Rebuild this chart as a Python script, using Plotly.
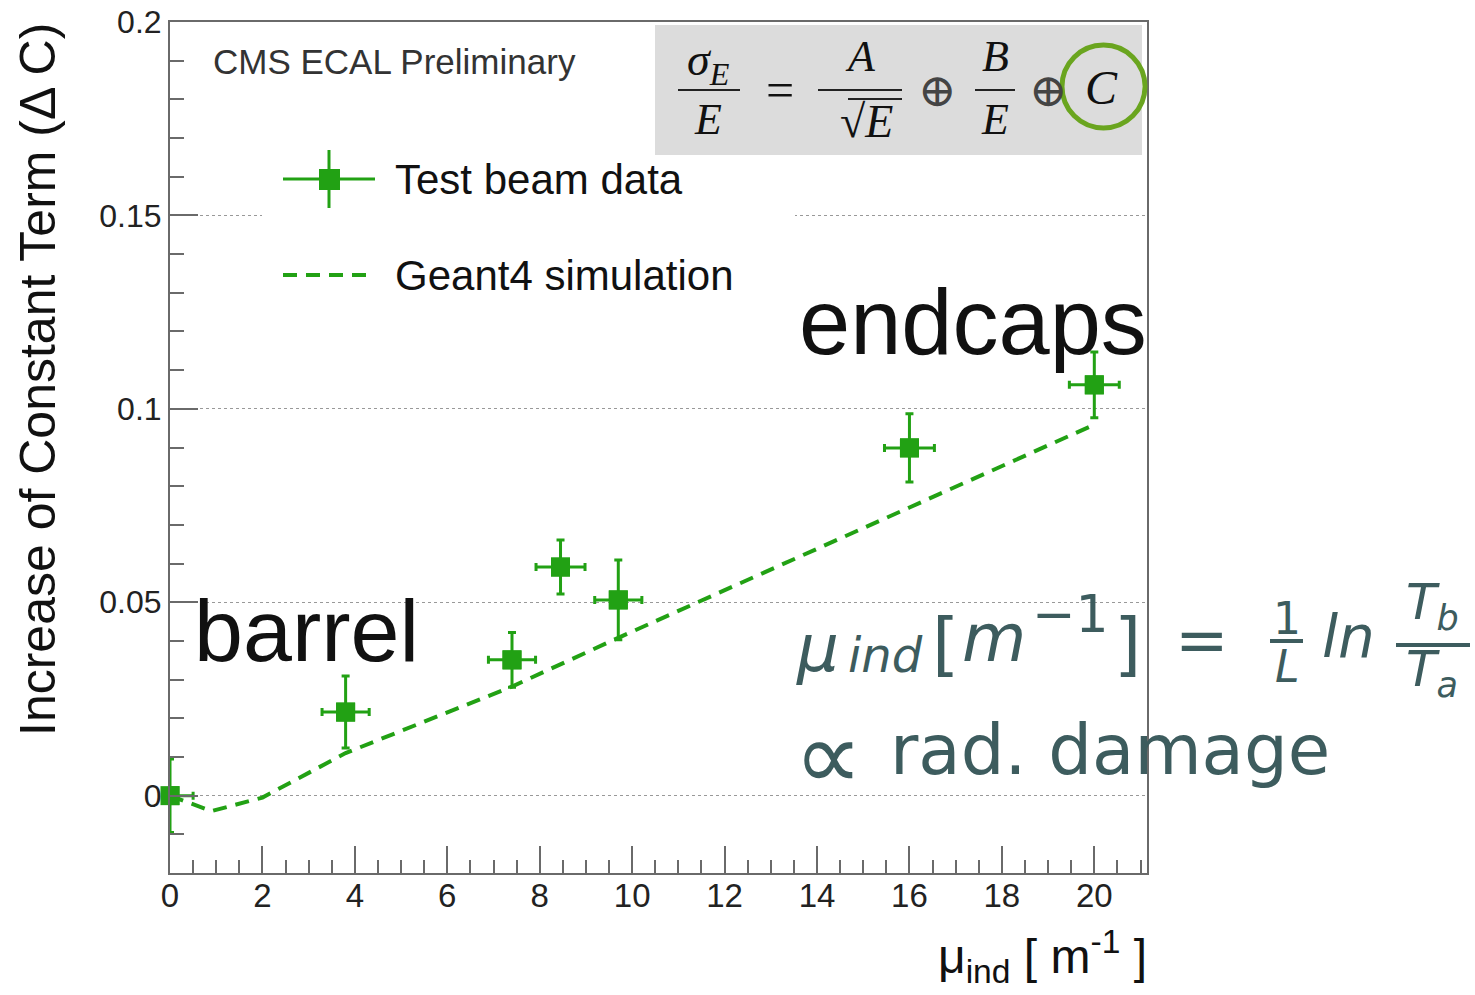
import plotly.graph_objects as go

# ---- data ----
mu_data = [0.0, 3.8, 7.4, 8.45, 9.7, 16.0, 20.0]
dC_data = [0.0, 0.0216, 0.0351, 0.0591, 0.0506, 0.0899, 0.1062]
dC_err = [0.0095, 0.0093, 0.0071, 0.0070, 0.0103, 0.0088, 0.0085]
mu_err = [0.5, 0.51, 0.51, 0.53, 0.51, 0.54, 0.54]

mu_sim = [0.0, 0.9, 2.0, 3.8, 7.4, 9.7, 16.0, 20.0]
dC_sim = [0.0, -0.0040, -0.0005, 0.0110, 0.0282, 0.0408, 0.0745, 0.0959]

x_ticks = [0, 2, 4, 6, 8, 10, 12, 14, 16, 18, 20]
y_tickvals = [0, 0.05, 0.1, 0.15, 0.2]
y_ticktext = ["0", "0.05", "0.1", "0.15", "0.2"]

GREEN = "#22a114"
TEAL = "#3d5c5e"
AXC = "#6a6a6a"

# plot-area geometry (pixels)
L, R, T, B = 170, 1147, 22, 873
W, H = R - L, B - T


def px(x):
    return (x - L) / W


def py(y):
    return (B - y) / H


fig = go.Figure()

# simulation
fig.add_trace(go.Scatter(
    x=mu_sim, y=dC_sim, mode="lines",
    line=dict(color=GREEN, width=4, dash="14px,9px"),
    showlegend=False, hoverinfo="skip"))

# data with error bars (clipped)
fig.add_trace(go.Scatter(
    x=mu_data, y=dC_data, mode="markers",
    marker=dict(symbol="square", size=19, color=GREEN),
    error_y=dict(type="data", array=dC_err, color=GREEN, thickness=3, width=4),
    error_x=dict(type="data", array=mu_err, color=GREEN, thickness=3, width=4),
    cliponaxis=True, showlegend=False))
# markers again, not clipped
fig.add_trace(go.Scatter(
    x=mu_data, y=dC_data, mode="markers",
    marker=dict(symbol="square", size=19, color=GREEN),
    cliponaxis=False, showlegend=False, hoverinfo="skip"))

shapes = []
# legend background (hides the grid)
shapes.append(dict(type="rect", xref="paper", yref="paper",
                   x0=px(262), x1=px(795), y0=py(300), y1=py(140),
                   fillcolor="white", line=dict(width=0), layer="above"))
# formula grey box
shapes.append(dict(type="rect", xref="paper", yref="paper",
                   x0=px(655), x1=px(1142), y0=py(155), y1=py(25),
                   fillcolor="#dcdcdc", line=dict(width=0), layer="above"))
# legend glyphs
shapes += [
    dict(type="line", xref="paper", yref="paper", x0=px(283), x1=px(375),
         y0=py(179), y1=py(179), line=dict(color=GREEN, width=3)),
    dict(type="line", xref="paper", yref="paper", x0=px(329), x1=px(329),
         y0=py(150), y1=py(208), line=dict(color=GREEN, width=3)),
    dict(type="rect", xref="paper", yref="paper", x0=px(319), x1=px(340),
         y0=py(190), y1=py(169), fillcolor=GREEN, line=dict(width=0)),
    dict(type="line", xref="paper", yref="paper", x0=px(283), x1=px(375),
         y0=py(275), y1=py(275), line=dict(color=GREEN, width=4, dash="14px,9px")),
]
# fraction bars in grey formula
for x0, x1 in [(678, 740), (818, 902), (975, 1015)]:
    shapes.append(dict(type="line", xref="paper", yref="paper", x0=px(x0), x1=px(x1),
                       y0=py(90), y1=py(90), line=dict(color="#222", width=2)))
shapes.append(dict(type="line", xref="paper", yref="paper", x0=px(848), x1=px(902),
                   y0=py(99), y1=py(99), line=dict(color="#222", width=2)))
# green circle around C
shapes.append(dict(type="circle", xref="paper", yref="paper",
                   x0=px(1062), x1=px(1145), y0=py(128), y1=py(45),
                   line=dict(color="#6aa51f", width=5)))
# fraction bars in teal formula
shapes.append(dict(type="line", xref="paper", yref="paper", x0=px(1270), x1=px(1303),
                   y0=py(641), y1=py(641), line=dict(color=TEAL, width=4)))
shapes.append(dict(type="line", xref="paper", yref="paper", x0=px(1396), x1=px(1470),
                   y0=py(645), y1=py(645), line=dict(color=TEAL, width=4)))

ann = []


def A(text, x, y, size, color="#111", family="Liberation Sans", xanchor="center",
      yanchor="middle", angle=0):
    ann.append(dict(text=text, x=px(x), y=py(y), xref="paper", yref="paper",
                    xanchor=xanchor, yanchor=yanchor, showarrow=False, textangle=angle,
                    font=dict(size=size, color=color, family=family)))


A("CMS ECAL Preliminary", 211, 62, 35, color="#333", xanchor="left")
A("Test beam data", 393, 180, 42, color="#111", xanchor="left")
A("Geant4 simulation", 393, 275, 42, color="#111", xanchor="left")
A("barrel", 192, 630, 88, xanchor="left")
A("endcaps", 797, 322, 92, xanchor="left")

SER = "Liberation Serif"
A("<i>σ<sub>E</sub></i>", 708, 63, 46, family=SER)
A("<i>E</i>", 708, 119, 44, family=SER)
A("=", 780, 90, 50, family=SER)
A("<i>A</i>", 860, 56, 44, family=SER)
A("√<i>E</i>", 866, 121, 46, family=SER)
A("⊕", 937, 90, 46, family="DejaVu Serif", color="#444")
A("<i>B</i>", 995, 56, 44, family=SER)
A("<i>E</i>", 995, 119, 44, family=SER)
A("⊕", 1048, 90, 46, family="DejaVu Serif", color="#444")
A("<i>C</i>", 1101, 88, 48, family=SER)

DS = "DejaVu Sans"
A("<i>μ</i>", 794, 648, 66, color=TEAL, family=DS, xanchor="left")
A("<i>ind</i>", 846, 655, 48, color=TEAL, family=DS, xanchor="left")
A("[", 930, 644, 70, color=TEAL, family=DS, xanchor="left")
A("<i>m</i>", 960, 638, 66, color=TEAL, family=DS, xanchor="left")
A("−1", 1030, 614, 52, color=TEAL, family=DS, xanchor="left")
A("]", 1112, 644, 70, color=TEAL, family=DS, xanchor="left")
A("=", 1202, 640, 64, color=TEAL, family=DS)
A("1", 1287, 618, 44, color=TEAL, family=DS)
A("<i>L</i>", 1287, 666, 44, color=TEAL, family=DS)
A("<i>ln</i>", 1348, 637, 58, color=TEAL, family=DS)
A("<i>T<sub>b</sub></i>", 1432, 605, 50, color=TEAL, family=DS)
A("<i>T<sub>a</sub></i>", 1432, 672, 50, color=TEAL, family=DS)
A("∝", 792, 756, 96, color=TEAL, family=DS, xanchor="left")
A("rad. damage", 888, 750, 69, color=TEAL, family=DS, xanchor="left")

A("Increase of Constant Term (Δ C)", 38, 380, 50, angle=-90)
A("μ<sub>ind</sub> [ m<sup>-1</sup> ]", 1149, 956, 48, xanchor="right")

fig.update_layout(
    width=1475, height=995,
    margin=dict(l=L, r=1475 - R, t=T, b=995 - B),
    paper_bgcolor="white", plot_bgcolor="white",
    shapes=shapes, annotations=ann,
    showlegend=False,
    font=dict(family="Liberation Sans", color="#222"),
    xaxis=dict(range=[0, 21.14], tickmode="array", tickvals=x_ticks,
               automargin=False,
               ticks="inside", ticklen=27, tickwidth=2, tickcolor=AXC,
               showline=True, linecolor=AXC, linewidth=2, mirror=True,
               showgrid=False, zeroline=False, ticklabelstandoff=-8,
               tickfont=dict(size=33, color="#222"),
               minor=dict(dtick=0.5, tick0=0, ticks="inside", ticklen=13,
                          tickwidth=2, tickcolor=AXC, showgrid=False)),
    yaxis=dict(range=[-0.02, 0.2], tickmode="array", tickvals=y_tickvals,
               ticktext=y_ticktext, automargin=False,
               ticks="inside", ticklen=28, tickwidth=2, tickcolor=AXC,
               showline=True, linecolor=AXC, linewidth=2, mirror=True,
               showgrid=True, gridcolor="#999", gridwidth=1, griddash="dot",
               zeroline=False,
               tickfont=dict(size=32, color="#222"),
               minor=dict(dtick=0.01, tick0=0, ticks="inside", ticklen=14,
                          tickwidth=2, tickcolor=AXC, showgrid=False)),
)

fig.write_html("out.html")
